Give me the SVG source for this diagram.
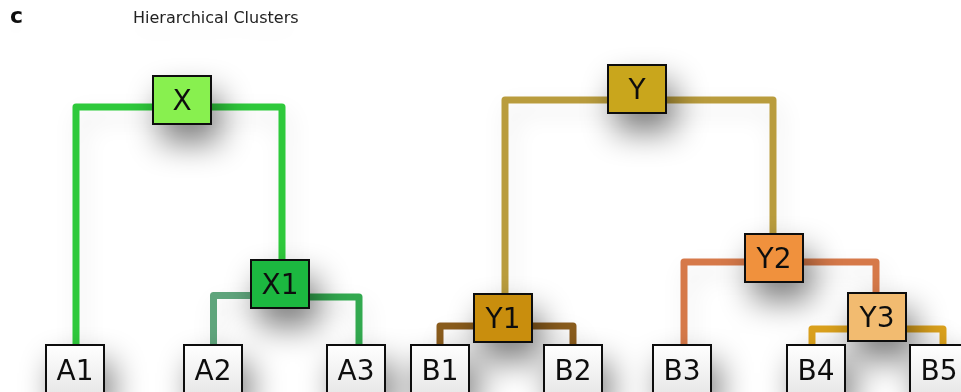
<svg xmlns="http://www.w3.org/2000/svg" width="961" height="392" viewBox="0 0 961 392">
<defs>
<filter id="sh" x="-100%" y="-100%" width="300%" height="300%">
<feGaussianBlur in="SourceAlpha" stdDeviation="16"/>
<feOffset dx="8" dy="18" result="b"/>
<feComponentTransfer><feFuncA type="linear" slope="0.5"/></feComponentTransfer>
<feMerge><feMergeNode/><feMergeNode in="SourceGraphic"/></feMerge>
</filter>
<filter id="lsh" x="-20%" y="-20%" width="140%" height="140%">
<feGaussianBlur in="SourceAlpha" stdDeviation="12"/>
<feOffset dx="4" dy="10"/>
<feComponentTransfer><feFuncA type="linear" slope="0.1"/></feComponentTransfer>
<feMerge><feMergeNode/><feMergeNode in="SourceGraphic"/></feMerge>
</filter>
<filter id="tsh" x="-50%" y="-100%" width="200%" height="400%">
<feGaussianBlur in="SourceAlpha" stdDeviation="12"/>
<feOffset dx="0" dy="10"/>
<feComponentTransfer><feFuncA type="linear" slope="0.06"/></feComponentTransfer>
<feMerge><feMergeNode/><feMergeNode in="SourceGraphic"/></feMerge>
</filter>
<linearGradient id="leaf" x1="0" y1="0" x2="0" y2="1">
<stop offset="0" stop-color="#ffffff"/>
<stop offset="1" stop-color="#e8e8e8"/>
</linearGradient>
</defs>
<style>
.e{fill:none;stroke-width:7;stroke-linejoin:round}
.n rect{stroke:#111;stroke-width:2}
.n text{font-family:"DejaVu Sans",sans-serif;font-size:28px;fill:#111;text-anchor:middle}
.leaf rect{fill:url(#leaf)}
</style>
<rect width="961" height="392" fill="#ffffff"/>
<g filter="url(#tsh)">
<text x="10" y="23" font-family="DejaVu Sans,sans-serif" font-weight="bold" font-size="22" fill="#111">c</text>
<text x="133" y="23" font-family="DejaVu Sans,sans-serif" font-size="16" fill="#222">Hierarchical Clusters</text>
</g>
<g id="connectors" filter="url(#lsh)">
<path class="e" stroke="#2dc93a" d="M76,346 V107 H282 V260"/>
<path class="e" stroke="#5fa57b" d="M213.5,346 V295.5 H280"/>
<path class="e" stroke="#33a94f" d="M280,297 H359 V346"/>
<path class="e" stroke="#b99c3e" d="M505,294 V100 H773 V234"/>
<path class="e" stroke="#8a5b1f" d="M440,346 V326 H573 V346"/>
<path class="e" stroke="#d6794a" d="M684,346 V262 H876 V293"/>
<path class="e" stroke="#dca21f" d="M812,346 V329 H943 V346"/>
</g>
<g filter="url(#sh)">
<g id="X" class="n"><rect x="153" y="76" width="58" height="48" fill="#88f050"/><text x="182" y="110">X</text></g>
<g id="X1" class="n"><rect x="251" y="260" width="58" height="48" fill="#1cb841"/><text x="280" y="294">X1</text></g>
<g id="Y" class="n"><rect x="608" y="65" width="58" height="48" fill="#c9a61c"/><text x="637" y="99">Y</text></g>
<g id="Y1" class="n"><rect x="474" y="294" width="58" height="48" fill="#c98e10"/><text x="503" y="328">Y1</text></g>
<g id="Y2" class="n"><rect x="745" y="234" width="58" height="48" fill="#f0913c"/><text x="774" y="268">Y2</text></g>
<g id="Y3" class="n"><rect x="848" y="293" width="58" height="48" fill="#f2bb70"/><text x="877" y="327">Y3</text></g>
<g id="A1" class="n leaf"><rect x="46" y="345" width="58" height="48"/><text x="75" y="380">A1</text></g>
<g id="A2" class="n leaf"><rect x="184" y="345" width="58" height="48"/><text x="213" y="380">A2</text></g>
<g id="A3" class="n leaf"><rect x="327" y="345" width="58" height="48"/><text x="356" y="380">A3</text></g>
<g id="B1" class="n leaf"><rect x="411" y="345" width="58" height="48"/><text x="440" y="380">B1</text></g>
<g id="B2" class="n leaf"><rect x="544" y="345" width="58" height="48"/><text x="573" y="380">B2</text></g>
<g id="B3" class="n leaf"><rect x="653" y="345" width="58" height="48"/><text x="682" y="380">B3</text></g>
<g id="B4" class="n leaf"><rect x="787" y="345" width="58" height="48"/><text x="816" y="380">B4</text></g>
<g id="B5" class="n leaf"><rect x="910" y="345" width="58" height="48"/><text x="939" y="380">B5</text></g>
</g>
</svg>
